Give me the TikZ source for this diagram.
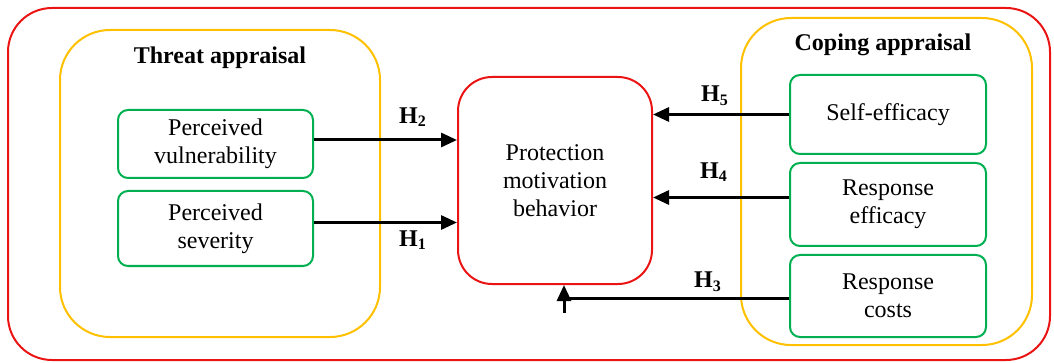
\documentclass[tikz,border=0pt]{standalone}
\usepackage{fontspec}
\setmainfont{Liberation Serif}
\usetikzlibrary{arrows.meta}
\definecolor{boxred}{RGB}{235,20,20}
\definecolor{boxyellow}{RGB}{255,192,0}
\definecolor{boxgreen}{RGB}{0,176,80}
\begin{document}
\begin{tikzpicture}[x=0.5pt,y=-0.5pt,
  every node/.style={font=\fontsize{12}{14}\selectfont},
  frame/.style={rectangle,draw=boxred,line width=1pt,rounded corners=22pt},
  appraisal/.style={rectangle,draw=boxyellow,line width=1pt,rounded corners=25pt},
  factor/.style={rectangle,draw=boxgreen,line width=1pt,rounded corners=5pt,align=center,inner sep=0pt},
  path/.style={line width=1.5pt,-{Triangle[length=8pt,width=7pt]}},
  hlabel/.style={font=\fontsize{12}{14}\selectfont\bfseries}]
\useasboundingbox (0,0) rectangle (1054,363);
% containers
\node[frame, minimum width=521pt, minimum height=176pt] (outer) at (529,184) {};
\node[appraisal, minimum width=160pt, minimum height=153.5pt] (threat) at (220,183.5) {};
\node[appraisal, minimum width=145.5pt, minimum height=163.5pt] (coping) at (886.5,181.5) {};
\node[hlabel] (threattitle) at (220,58) {Threat appraisal};
\node[hlabel] (copingtitle) at (883,45) {Coping appraisal};
% centre
\node[rectangle,draw=boxred,line width=1pt,rounded corners=17pt,align=center,
  minimum width=97pt, minimum height=103.5pt] (motiv) at (555,180.5) {Protection\\motivation\\behavior};
% threat side
\node[factor, minimum width=97.5pt, minimum height=34pt] (vuln) at (215.5,144) {Perceived\\vulnerability};
\node[factor, minimum width=97.5pt, minimum height=37.5pt] (sev) at (215.5,228.5) {Perceived\\severity};
% coping side
\node[factor, minimum width=98pt, minimum height=39.5pt] (selfeff) at (888,114.5) {Self-efficacy};
\node[factor, minimum width=98pt, minimum height=41.5pt] (respeff) at (888,204.5) {Response\\efficacy};
\node[factor, minimum width=98pt, minimum height=41pt] (costs) at (888,296) {Response\\costs};
% hypotheses
\draw[path] ([yshift=2pt]vuln.east) -- ([yshift=2pt]vuln.east -| motiv.west);
\draw[path] ([yshift=3pt]sev.east) -- ([yshift=3pt]sev.east -| motiv.west);
\draw[path] (selfeff.west) -- (selfeff.west -| motiv.east);
\draw[path] ([yshift=3.5pt]respeff.west) -- ([yshift=3.5pt]respeff.west -| motiv.east);
\coordinate (h3turn) at (568,298);
\coordinate (h3foot) at (564,313);
\draw[line width=1.5pt] ([yshift=-1pt]costs.west) -- (h3turn);
\draw[path] (h3foot) -- (h3foot |- motiv.south);
\node[hlabel] (h2) at (413,117) {H\textsubscript{2}};
\node[hlabel] (h1) at (413,240) {H\textsubscript{1}};
\node[hlabel] (h5) at (715,96) {H\textsubscript{5}};
\node[hlabel] (h4) at (714,172) {H\textsubscript{4}};
\node[hlabel] (h3) at (708,282) {H\textsubscript{3}};
\end{tikzpicture}
\end{document}
